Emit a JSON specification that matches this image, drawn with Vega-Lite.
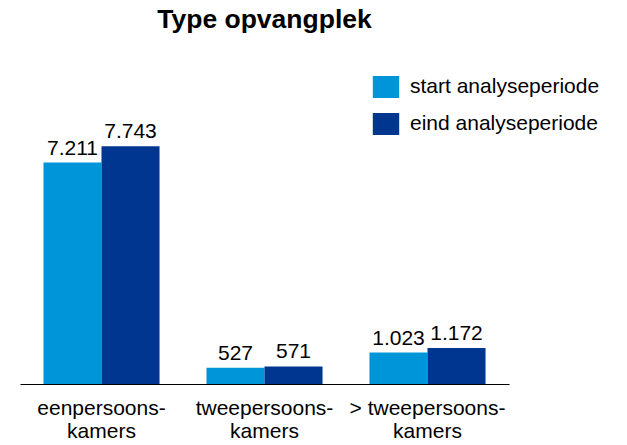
{
  "$schema": "https://vega.github.io/schema/vega-lite/v6.json",
  "width": 489,
  "height": 307,
  "autosize": "none",
  "padding": {"left": 20, "top": 77, "right": 118, "bottom": 61},
  "config": {
    "view": {"stroke": null},
    "font": "Liberation Sans",
    "locale": {"number": {"decimal": ",", "thousands": ".", "grouping": [3], "currency": ["€", ""]}}
  },
  "title": {
    "text": "Type opvangplek",
    "fontSize": 26.5,
    "fontWeight": "bold",
    "font": "Liberation Sans",
    "color": "#000000",
    "anchor": "middle",
    "offset": 43
  },
  "data": {
    "values": [
      {"cat": "eenpersoons-|kamers", "periode": "start analyseperiode", "waarde": 7211},
      {"cat": "eenpersoons-|kamers", "periode": "eind analyseperiode", "waarde": 7743},
      {"cat": "tweepersoons-|kamers", "periode": "start analyseperiode", "waarde": 527},
      {"cat": "tweepersoons-|kamers", "periode": "eind analyseperiode", "waarde": 571},
      {"cat": "> tweepersoons-|kamers", "periode": "start analyseperiode", "waarde": 1023},
      {"cat": "> tweepersoons-|kamers", "periode": "eind analyseperiode", "waarde": 1172}
    ]
  },
  "encoding": {
    "x": {
      "field": "cat",
      "type": "nominal",
      "sort": null,
      "title": null,
      "scale": {"paddingInner": 0.288, "paddingOuter": 0.144},
      "axis": {
        "labelExpr": "split(datum.label, '|')",
        "labelAngle": 0,
        "labelFontSize": 21,
        "labelColor": "#000000",
        "labelLineHeight": 23,
        "labelPadding": 13,
        "ticks": false,
        "domainColor": "#000000",
        "domainWidth": 1.2,
        "labelBaseline": "top",
        "labelLimit": 300
      }
    },
    "xOffset": {
      "field": "periode",
      "type": "nominal",
      "sort": ["start analyseperiode", "eind analyseperiode"],
      "scale": {"paddingInner": 0, "paddingOuter": 0}
    },
    "y": {
      "field": "waarde",
      "type": "quantitative",
      "scale": {"domain": [0, 10000]},
      "axis": null
    }
  },
  "layer": [
    {
      "mark": {"type": "bar"},
      "encoding": {
        "color": {
          "field": "periode",
          "type": "nominal",
          "sort": ["start analyseperiode", "eind analyseperiode"],
          "scale": {"range": ["#0094D9", "#003590"]},
          "legend": {
            "title": null,
            "orient": "none",
            "legendX": 355,
            "legendY": -1,
            "symbolType": "M-1.2,-1H1.2V1H-1.2Z",
            "symbolSize": 484,
            "symbolStrokeWidth": 0,
            "labelFontSize": 21,
            "labelColor": "#000000",
            "labelOffset": 13,
            "rowPadding": 15,
            "labelLimit": 300
          }
        }
      }
    },
    {
      "mark": {"type": "text", "baseline": "bottom", "dy": -4, "fontSize": 21, "color": "#000000"},
      "encoding": {
        "text": {"field": "waarde", "type": "quantitative", "format": ",d"}
      }
    }
  ]
}
